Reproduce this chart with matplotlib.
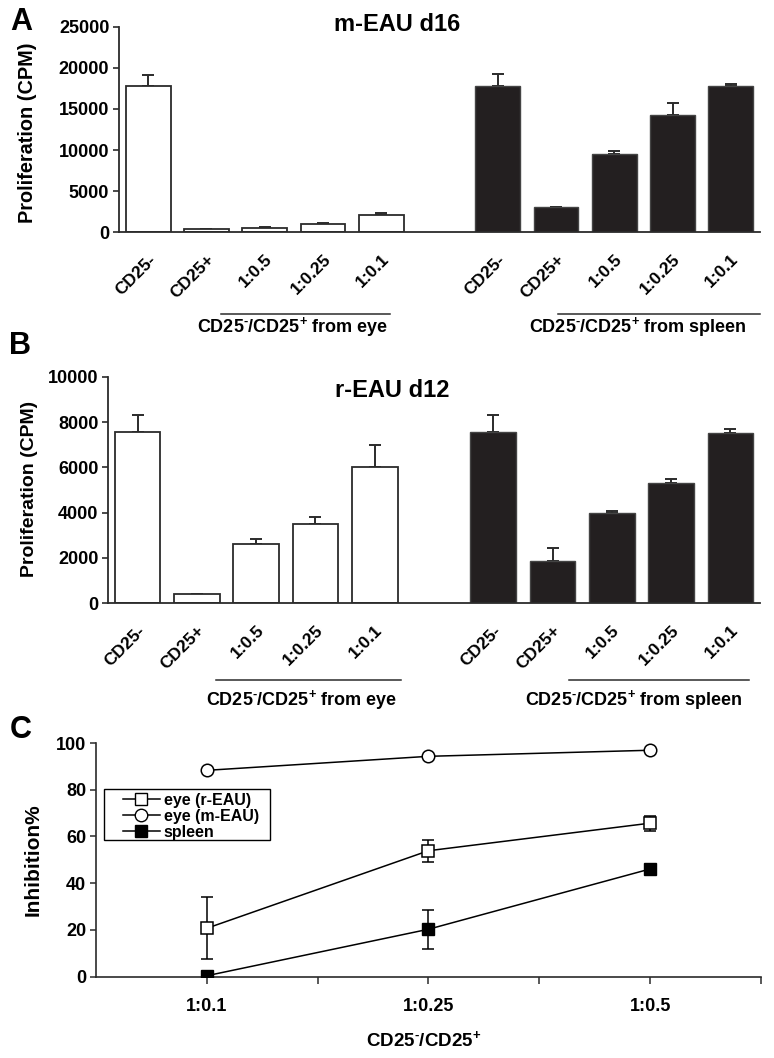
import matplotlib
matplotlib.use("Agg")
import matplotlib.pyplot as plt
from matplotlib import font_manager
from matplotlib.transforms import blended_transform_factory, ScaledTranslation
from matplotlib.lines import Line2D
from matplotlib.patches import Rectangle
import numpy as np

# ---------------- data ----------------
bar_labels = ["CD25-", "CD25+", "1:0.5", "1:0.25", "1:0.1"]

a_eye = [17750, 445, 530, 970, 2070]
a_eye_err = [1420, 0, 80, 160, 320]
a_spleen = [17780, 3040, 9560, 14210, 17820]
a_spleen_err = [1420, 0, 280, 1500, 200]

b_eye = [7550, 400, 2600, 3490, 6000]
b_eye_err = [740, 0, 240, 330, 970]
b_spleen = [7570, 1870, 4000, 5320, 7530]
b_spleen_err = [720, 560, 70, 150, 140]

c_categories = ["1:0.1", "1:0.25", "1:0.5"]
c_eye_r = [20.7, 53.9, 65.7]
c_eye_r_lo = [13.0, 4.8, 3.3]
c_eye_r_hi = [13.2, 4.4, 3.2]
c_eye_m = [88.3, 94.3, 96.9]
c_spleen = [0.4, 20.3, 46.1]
c_spleen_lo = [0.0, 8.6, 0.0]
c_spleen_hi = [0.0, 8.3, 0.0]

# ---------------- fonts ----------------
avail = {f.name for f in font_manager.fontManager.ttflist}
MAIN = "Liberation Sans" if "Liberation Sans" in avail else "DejaVu Sans"
plt.rcParams["font.family"] = [MAIN, "DejaVu Sans"]
plt.rcParams["font.weight"] = "bold"
plt.rcParams["mathtext.fontset"] = "custom"
plt.rcParams["mathtext.rm"] = MAIN + ":bold"
plt.rcParams["mathtext.it"] = MAIN + ":bold"
plt.rcParams["mathtext.bf"] = MAIN + ":bold"

EDGE = "#2b2b2b"
DARK = "#231f20"
GROUP = r"CD25$^{\text{-}}$/CD25$^{+}$"

fig = plt.figure(figsize=(7.74, 10.58), dpi=100)

def W(px):
    return px / 774.0

def H(py):
    return 1 - py / 1058.0

def bar_panel(rect, eye, eye_err, spl, spl_err, ymax, yticks, title, title_xy,
              line_y, text_y, eye_span, spl_span, eye_tx, spl_tx, letter, letter_xy,
              ylab_xy, ylab_size, lab_dx):
    ax = fig.add_axes(rect)
    xe = np.arange(5)
    xs = np.arange(5) + 6
    ax.bar(xe, eye, width=0.77, color="white", edgecolor=EDGE, linewidth=1.3, zorder=2)
    ax.bar(xs, spl, width=0.77, color=DARK, edgecolor="#444444", linewidth=1.0, zorder=2)
    ax.errorbar(xe, eye, yerr=[np.zeros(5), eye_err], fmt="none", ecolor=EDGE,
                elinewidth=1.4, capsize=4, capthick=1.4, zorder=1)
    ax.errorbar(xs, spl, yerr=[np.zeros(5), spl_err], fmt="none", ecolor=EDGE,
                elinewidth=1.4, capsize=4, capthick=1.4, zorder=1)
    ax.set_xlim(-0.5, 10.5)
    ax.set_ylim(0, ymax)
    ax.set_yticks(yticks)
    ax.set_xticks(list(xe) + list(xs))
    ax.set_xticklabels(bar_labels + bar_labels, rotation=45, ha="right",
                       rotation_mode="anchor", fontsize=12.5, fontweight="bold")
    off = ScaledTranslation(lab_dx / 100.0, 0, fig.dpi_scale_trans)
    for lab in ax.get_xticklabels():
        lab.set_transform(lab.get_transform() + off)
    ax.tick_params(axis="x", length=0, pad=14)
    ax.tick_params(axis="y", length=4, width=1.2, labelsize=13, pad=3, color=EDGE)
    for lab in ax.get_yticklabels():
        lab.set_fontweight("bold")
    for s in ["top", "right"]:
        ax.spines[s].set_visible(False)
    for s in ["left", "bottom"]:
        ax.spines[s].set_linewidth(1.3)
        ax.spines[s].set_color(EDGE)
    ax.text(title_xy[0], title_xy[1], title, transform=ax.transAxes, fontsize=17,
            fontweight="bold", ha="center", va="center")
    tr = blended_transform_factory(ax.transData, ax.transAxes)
    for span, tx, word in [(eye_span, eye_tx, "eye"), (spl_span, spl_tx, "spleen")]:
        ax.plot(span, [line_y, line_y], transform=tr, color=EDGE, lw=1.1, clip_on=False)
        ax.text(tx, text_y, GROUP + " from " + word, transform=tr,
                fontsize=13, fontweight="bold", ha="center", va="center")
    fig.text(letter_xy[0], letter_xy[1], letter, fontsize=22, fontweight="bold",
             ha="center", va="center")
    fig.text(ylab_xy[0], ylab_xy[1], "Proliferation (CPM)", rotation=90,
             fontsize=ylab_size, fontweight="bold", ha="center", va="center")
    return ax

# Panel A
bar_panel([W(119), H(232.3), W(760) - W(119), H(26.7) - H(232.3)],
          a_eye, a_eye_err, a_spleen, a_spleen_err, 25000,
          [0, 5000, 10000, 15000, 20000, 25000], "m-EAU d16", (0.434, 1.013),
          -0.397, -0.46, (1.25, 4.15), (7.04, 10.5), 2.48, 8.41,
          "A", (W(21), H(22)), (W(28), H(133)), 14.3, -6)

# Panel B
bar_panel([W(108), H(603.3), W(760) - W(108), H(376.7) - H(603.3)],
          b_eye, b_eye_err, b_spleen, b_spleen_err, 10000,
          [0, 2000, 4000, 6000, 8000, 10000], "r-EAU d12", (0.436, 0.937),
          -0.338, -0.427, (1.33, 4.45), (7.28, 10.32), 2.77, 8.37,
          "B", (W(20), H(346)), (W(30), H(489)), 14.0, -1)

# Panel C
axc = fig.add_axes([W(95.8), H(976.7), W(761) - W(95.8), H(743) - H(976.7)])
xc = np.arange(len(c_categories))
axc.errorbar(xc, c_eye_r, yerr=[c_eye_r_lo, c_eye_r_hi], color="black", lw=1.1,
             marker="s", markersize=9, markerfacecolor="white", markeredgecolor="black",
             markeredgewidth=1.1, ecolor="black", elinewidth=1.1, capsize=4, capthick=1.1,
             zorder=3)
axc.plot(xc, c_eye_m, color="black", lw=1.1, marker="o", markersize=9,
         markerfacecolor="white", markeredgecolor="black", markeredgewidth=1.1, zorder=3)
axc.errorbar(xc, c_spleen, yerr=[c_spleen_lo, c_spleen_hi], color="black", lw=1.1,
             marker="s", markersize=9, markerfacecolor="black", markeredgecolor="black",
             ecolor="black", elinewidth=1.1, capsize=4, capthick=1.1, zorder=3)
axc.set_xlim(-0.5, 2.5)
axc.set_ylim(0, 100)
axc.set_yticks([0, 20, 40, 60, 80, 100])
axc.set_xticks(xc)
axc.set_xticklabels(c_categories, fontsize=13, fontweight="bold")
axc.set_xticks([0.5, 1.5, 2.5], minor=True)
axc.tick_params(axis="x", which="both", length=5, width=1.1, pad=10, color=EDGE)
axc.tick_params(axis="y", length=4, width=1.1, labelsize=13, pad=3, color=EDGE)
for lab in axc.get_yticklabels():
    lab.set_fontweight("bold")
for s in ["top", "right"]:
    axc.spines[s].set_visible(False)
for s in ["left", "bottom"]:
    axc.spines[s].set_linewidth(1.2)
    axc.spines[s].set_color(EDGE)

handles = [
    Line2D([], [], color="black", lw=1.1, marker="s", markersize=9,
           markerfacecolor="white", markeredgecolor="black"),
    Line2D([], [], color="black", lw=1.1, marker="o", markersize=9,
           markerfacecolor="white", markeredgecolor="black"),
    Line2D([], [], color="black", lw=1.1, marker="s", markersize=9,
           markerfacecolor="black", markeredgecolor="black"),
]
labels = ["eye (r-EAU)", "eye (m-EAU)", "spleen"]
axc.add_artist(Rectangle((W(104), H(840)), W(270) - W(104), H(789) - H(840),
                         transform=fig.transFigure, facecolor="white",
                         edgecolor="black", linewidth=1.0, zorder=4))
leg = fig.legend(handles, labels, loc="upper left",
                 bbox_to_anchor=(W(123), H(793)), borderaxespad=0, borderpad=0,
                 frameon=False, prop={"weight": "bold", "size": 11.5},
                 handlelength=2.3, handletextpad=0.25, labelspacing=0.05)
leg.set_zorder(5)

fig.text(W(424), H(1040), GROUP, fontsize=13.5, fontweight="bold",
         ha="center", va="center")
fig.text(W(33), H(860), "Inhibition%", rotation=90, fontsize=15, fontweight="bold",
         ha="center", va="center")
fig.text(W(21), H(730), "C", fontsize=22, fontweight="bold", ha="center", va="center")

fig.savefig("out.png", dpi=100)
